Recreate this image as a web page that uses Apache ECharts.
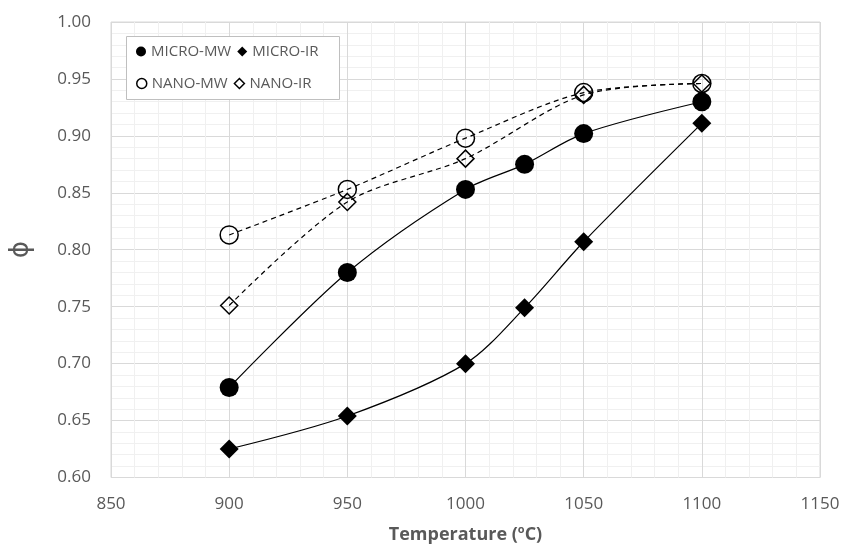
<!DOCTYPE html>
<html>
<head>
<meta charset="utf-8">
<script src="https://cdn.jsdelivr.net/npm/echarts@6/dist/echarts.min.js"></script>
<style>html,body{margin:0;padding:0;background:#fff}#c{width:844px;height:549px}</style>
</head>
<body>
<div id="c"></div>
<script>
var microTemps = [900, 950, 1000, 1025, 1050, 1100];
var microMW = [0.679, 0.780, 0.853, 0.875, 0.902, 0.930];
var microIR = [0.625, 0.654, 0.700, 0.749, 0.807, 0.911];
var nanoTemps = [900, 950, 1000, 1050, 1100];
var nanoMW = [0.813, 0.853, 0.898, 0.938, 0.946];
var nanoIR = [0.751, 0.842, 0.880, 0.936, 0.946];
var seriesNames = ['MICRO-MW', 'MICRO-IR', 'NANO-MW', 'NANO-IR'];

function pairs(xs, ys) { return xs.map(function (x, i) { return [x, ys[i]]; }); }

var FONT = '"Open Sans", "Noto Sans", sans-serif';
var TXT = '#595959';
var chart = echarts.init(document.getElementById('c'));

var legendText = { color: TXT, fontSize: 15, fontFamily: FONT, width: 86 };
var filled = { color: '#000' };
var hollow = { color: 'rgba(255,255,255,0)', borderColor: '#000', borderWidth: 1.5 };

chart.setOption({
  animation: false,
  backgroundColor: '#fff',
  graphic: [{
    type: 'rect', z: 3,
    shape: { x: 126.5, y: 36.5, width: 213, height: 63 },
    style: { fill: '#fff', stroke: '#bfbfbf', lineWidth: 1 }
  }],
  legend: [{
    z: 5, left: 136, top: 44, padding: 0, itemGap: 6, itemWidth: 10, itemHeight: 10,
    textStyle: legendText,
    data: [
      { name: seriesNames[0], icon: 'circle', itemStyle: filled },
      { name: seriesNames[1], icon: 'diamond', itemStyle: filled }
    ]
  }, {
    z: 5, left: 136, top: 76, padding: 0, itemGap: 6, itemWidth: 10, itemHeight: 10,
    textStyle: legendText,
    data: [
      { name: seriesNames[2], icon: 'circle', itemStyle: { color: '#fff', borderColor: '#000', borderWidth: 1.5 } },
      { name: seriesNames[3], icon: 'diamond', itemStyle: { color: '#fff', borderColor: '#000', borderWidth: 1.5 } }
    ]
  }],
  grid: { left: 108, right: 24, top: 22, bottom: 70, show: true, borderColor: '#d9d9d9', borderWidth: 1 },
  xAxis: {
    type: 'value', min: 850, max: 1150, interval: 50,
    name: 'Temperature ({sup|o}C)', nameLocation: 'middle', nameGap: 47,
    nameTextStyle: {
      color: TXT, fontSize: 18, fontWeight: 'bold', fontFamily: FONT,
      rich: { sup: { color: TXT, fontSize: 11, fontWeight: 'bold', fontFamily: FONT, verticalAlign: 'top', padding: [0, 0, 10, 0] } }
    },
    axisLine: { show: false }, axisTick: { show: false },
    axisLabel: { color: TXT, fontSize: 17, fontFamily: FONT, margin: 18, formatter: function (v) { return String(v); } },
    splitLine: { show: true, lineStyle: { color: '#d9d9d9', width: 1 } },
    minorTick: { show: false, splitNumber: 5 },
    minorSplitLine: { show: true, lineStyle: { color: '#f0f0f0', width: 1 } }
  },
  yAxis: {
    type: 'value', min: 0.60, max: 1.00, interval: 0.05,
    name: 'ϕ', nameLocation: 'middle', nameGap: 77, nameRotate: 90,
    nameTextStyle: { color: TXT, fontSize: 26, fontFamily: '"DejaVu Sans", sans-serif' },
    axisLine: { show: false }, axisTick: { show: false },
    axisLabel: { color: TXT, fontSize: 17, fontFamily: FONT, margin: 20, formatter: function (v) { return v.toFixed(2); } },
    splitLine: { show: true, lineStyle: { color: '#d9d9d9', width: 1 } },
    minorTick: { show: false, splitNumber: 5 },
    minorSplitLine: { show: true, lineStyle: { color: '#f0f0f0', width: 1 } }
  },
  series: [{
    name: seriesNames[0], type: 'line', smooth: 0.3, data: pairs(microTemps, microMW),
    symbol: 'circle', symbolSize: 19, itemStyle: filled,
    lineStyle: { color: '#000', width: 1.2 }
  }, {
    name: seriesNames[1], type: 'line', smooth: 0.3, data: pairs(microTemps, microIR),
    symbol: 'diamond', symbolSize: 19, itemStyle: filled,
    lineStyle: { color: '#000', width: 1.2 }
  }, {
    name: seriesNames[2], type: 'line', smooth: 0.3, data: pairs(nanoTemps, nanoMW),
    symbol: 'circle', symbolSize: 18, itemStyle: hollow,
    lineStyle: { color: '#000', width: 1.2, type: [5, 4] }
  }, {
    name: seriesNames[3], type: 'line', smooth: 0.3, data: pairs(nanoTemps, nanoIR),
    symbol: 'diamond', symbolSize: 17, itemStyle: hollow,
    lineStyle: { color: '#000', width: 1.2, type: [5, 4] }
  }]
});
</script>
</body>
</html>
